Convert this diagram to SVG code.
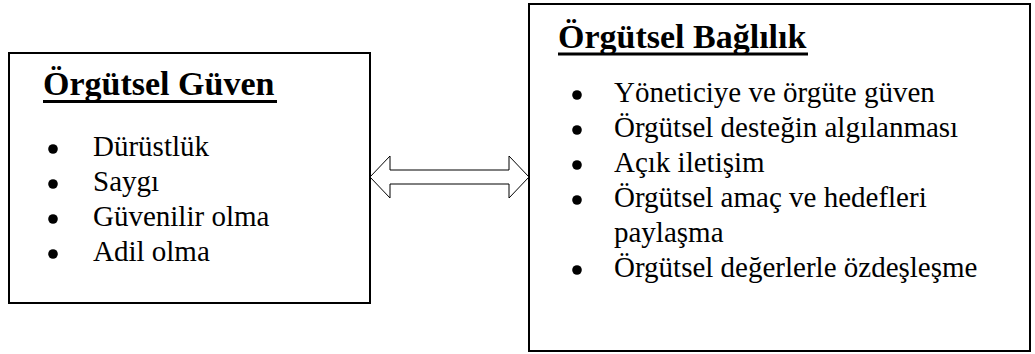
<svg xmlns="http://www.w3.org/2000/svg" width="1035" height="354" viewBox="0 0 1035 354">
  <style>
    .box { fill: #ffffff; stroke: #000000; stroke-width: 2; }
    .title { font-family: "Liberation Serif", "Times New Roman", serif; font-size: 34px; font-weight: bold; fill: #000000; }
    .rule { stroke: #000000; stroke-width: 3; }
    .item { font-family: "Liberation Serif", "Times New Roman", serif; font-size: 29px; fill: #000000; }
    .bullet { fill: #000000; }
    .link { fill: #ffffff; stroke: #000000; stroke-width: 1; }
  </style>
  <rect width="1035" height="354" fill="#ffffff"/>

  <g id="orgutsel-guven">
    <rect class="box" x="9" y="53" width="361" height="250"/>
    <text class="title" x="43" y="95">Örgütsel Güven</text>
    <line class="rule" x1="43" y1="101.5" x2="277" y2="101.5"/>
    <circle class="bullet" cx="53" cy="149" r="4.8"/>
    <text class="item" x="93" y="156">Dürüstlük</text>
    <circle class="bullet" cx="53" cy="184" r="4.8"/>
    <text class="item" x="93" y="191">Saygı</text>
    <circle class="bullet" cx="53" cy="219" r="4.8"/>
    <text class="item" x="93" y="226">Güvenilir olma</text>
    <circle class="bullet" cx="53" cy="254" r="4.8"/>
    <text class="item" x="93" y="261">Adil olma</text>
  </g>

  <g id="orgutsel-baglilik">
    <rect class="box" x="529" y="4" width="501" height="347"/>
    <text class="title" x="558" y="48">Örgütsel Bağlılık</text>
    <line class="rule" x1="558" y1="54" x2="808" y2="54"/>
    <circle class="bullet" cx="577" cy="95" r="4.8"/>
    <text class="item" x="614" y="102">Yöneticiye ve örgüte güven</text>
    <circle class="bullet" cx="577" cy="130" r="4.8"/>
    <text class="item" x="614" y="137">Örgütsel desteğin algılanması</text>
    <circle class="bullet" cx="577" cy="165" r="4.8"/>
    <text class="item" x="614" y="172">Açık iletişim</text>
    <circle class="bullet" cx="577" cy="200" r="4.8"/>
    <text class="item" x="614" y="207">Örgütsel amaç ve hedefleri</text>
    <text class="item" x="614" y="242">paylaşma</text>
    <circle class="bullet" cx="577" cy="270" r="4.8"/>
    <text class="item" x="614" y="277">Örgütsel değerlerle özdeşleşme</text>
  </g>

  <g id="connectors">
    <!-- double-headed block arrow between the two boxes -->
    <path class="link" d="M370,177 L390,156 L390,170 L509,170 L509,156 L529,177 L509,198 L509,184 L390,184 L390,198 Z"/>
  </g>
</svg>
